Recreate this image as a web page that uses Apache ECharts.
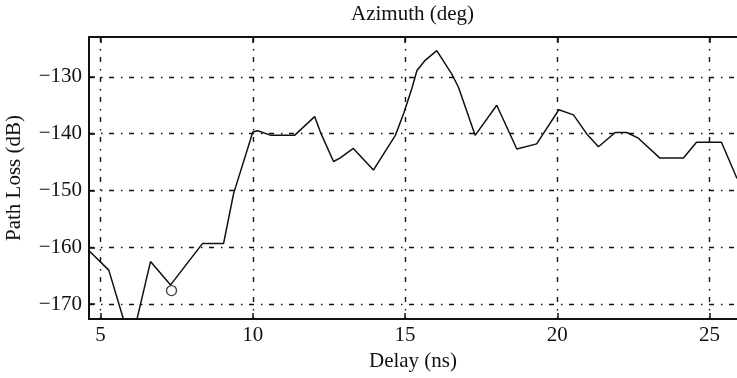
<!DOCTYPE html>
<html>
<head>
<meta charset="utf-8">
<script src="https://cdn.jsdelivr.net/npm/echarts@6/dist/echarts.min.js"></script>
<style>
html,body{margin:0;padding:0;background:#fff;}
#chart{width:737px;height:378px;}
</style>
</head>
<body>
<div id="chart"></div>
<script>
// Data
var delayNs = [4.62, 5.27, 6.0, 6.64, 7.3, 8.35, 9.04, 9.37, 10.0, 10.16, 10.6, 11.37, 12.03, 12.24, 12.65, 12.86, 13.3, 13.96, 14.68, 14.95, 15.22, 15.39, 15.66, 16.04, 16.53, 16.75, 17.3, 18.01, 18.67, 19.32, 19.54, 20.05, 20.53, 20.96, 21.35, 21.9, 22.28, 22.66, 23.37, 24.14, 24.57, 25.39, 25.9];
var pathLossDb = [-160.6, -164.0, -177.1, -162.5, -166.6, -159.3, -159.3, -150.5, -139.7, -139.5, -140.3, -140.3, -137.0, -140.0, -144.9, -144.3, -142.6, -146.4, -140.3, -136.5, -132.1, -128.9, -127.1, -125.4, -129.5, -131.8, -140.3, -135.0, -142.7, -141.8, -140.0, -135.8, -136.7, -140.0, -142.3, -139.8, -139.8, -140.8, -144.3, -144.3, -141.5, -141.5, -147.9];
var markerDelay = [7.33];
var markerLoss = [-167.6];
var xTicks = [5, 10, 15, 20, 25];
var yTicks = [-170, -160, -150, -140, -130];
var xRange = [4.62, 25.9];
var yRange = [-172.6, -123];
var titleText = 'Azimuth (deg)';
var xName = 'Delay (ns)';
var yName = 'Path Loss (dB)';

var FONT = 'Liberation Serif';
var FS = 21;
var gridStyle = {color: '#111', width: 1.4, type: [5, 7, 1.5, 6.5]};

var lineData = delayNs.map(function (d, i) { return [d, pathLossDb[i]]; });
var markData = markerDelay.map(function (d, i) { return [d, markerLoss[i]]; });

function fmt(v) {
  return String(v).replace('-', '\u2212');
}

var chart = echarts.init(document.getElementById('chart'), null, {renderer: 'canvas'});
chart.setOption({
  animation: false,
  backgroundColor: '#fff',
  textStyle: {fontFamily: FONT},
  graphic: [{
    type: 'text',
    left: 413 - 62,
    top: 4,
    style: {text: titleText, font: FS + 'px "' + FONT + '"', fill: '#111'}
  }],
  grid: {left: 89, right: 0, top: 37, bottom: 59, containLabel: false, outerBoundsMode: 'none'},
  xAxis: [{
    type: 'value',
    min: xRange[0], max: xRange[1],
    position: 'bottom',
    name: xName,
    nameLocation: 'middle',
    nameGap: 30,
    nameTextStyle: {fontFamily: FONT, fontSize: FS, color: '#111'},
    axisLine: {show: true, onZero: false, lineStyle: {color: '#111', width: 2}},
    axisTick: {show: true, inside: true, length: 6, customValues: xTicks, lineStyle: {color: '#111', width: 1.5}},
    axisLabel: {show: true, margin: 6, customValues: xTicks, fontFamily: FONT, fontSize: FS, color: '#111', formatter: fmt},
    splitLine: {show: true, lineStyle: gridStyle}
  }, {
    type: 'value',
    min: xRange[0], max: xRange[1],
    position: 'top',
    axisLine: {show: true, onZero: false, lineStyle: {color: '#111', width: 2}},
    axisTick: {show: true, inside: true, length: 6, customValues: xTicks, lineStyle: {color: '#111', width: 1.5}},
    axisLabel: {show: false},
    splitLine: {show: false}
  }],
  yAxis: [{
    type: 'value',
    min: yRange[0], max: yRange[1],
    position: 'left',
    name: yName,
    nameLocation: 'middle',
    nameRotate: 90,
    nameGap: 64,
    nameTextStyle: {fontFamily: FONT, fontSize: FS, color: '#111'},
    axisLine: {show: true, onZero: false, lineStyle: {color: '#111', width: 2}},
    axisTick: {show: true, inside: true, length: 6, customValues: yTicks, lineStyle: {color: '#111', width: 1.5}},
    axisLabel: {show: true, margin: 7, customValues: yTicks, fontFamily: FONT, fontSize: FS, color: '#111', formatter: fmt},
    splitLine: {show: true, lineStyle: gridStyle}
  }],
  series: [{
    type: 'line',
    data: lineData,
    xAxisIndex: 0, yAxisIndex: 0,
    showSymbol: false,
    symbol: 'none',
    clip: true,
    lineStyle: {color: '#111', width: 1.5},
    z: 5
  }, {
    type: 'scatter',
    data: markData,
    xAxisIndex: 0, yAxisIndex: 0,
    symbol: 'circle',
    symbolSize: 10,
    itemStyle: {color: 'rgba(0,0,0,0)', borderColor: '#111', borderWidth: 1.3},
    z: 6
  }]
});
</script>
</body>
</html>
